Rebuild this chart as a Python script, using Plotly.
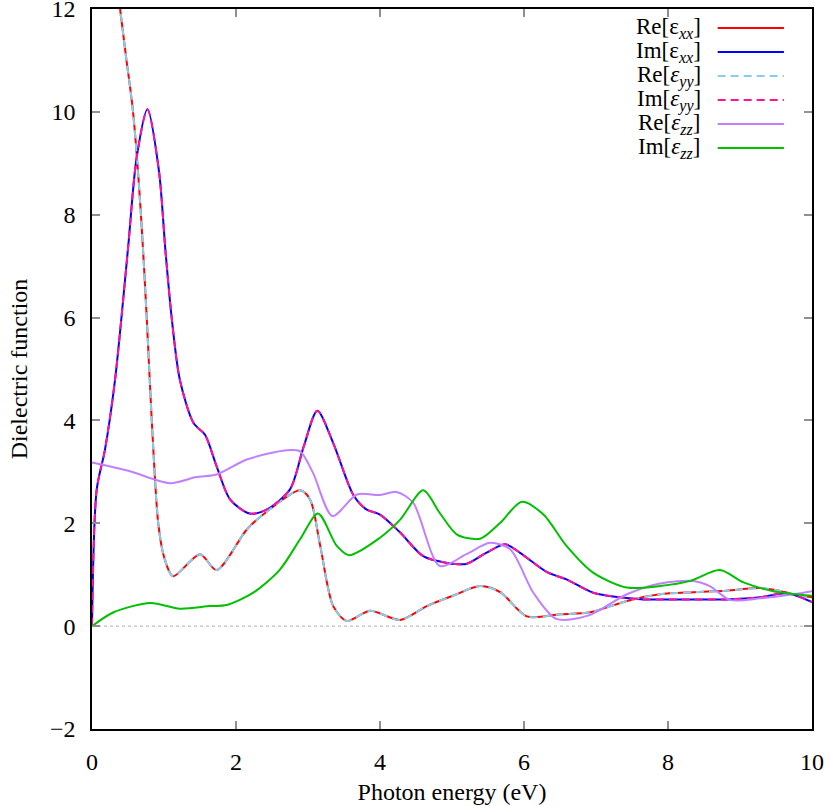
import plotly.graph_objects as go

# photon energy (eV) and dielectric function components
x_re_xx = [0.30, 0.39, 0.47, 0.57, 0.68, 0.76, 0.83, 0.92, 1.0, 1.125, 1.50, 1.73,
           2.15, 2.43, 2.89, 3.03, 3.17, 3.35, 3.54, 3.86, 4.28, 4.65, 5.01, 5.39,
           5.67, 6.04, 6.50, 6.92, 7.43, 7.89, 8.35, 8.81, 9.28, 9.51, 9.74, 10.0]
re_xx = [12.9, 12.0, 11.1, 10.0, 8.0, 6.0, 4.0, 2.0, 1.35, 0.97, 1.40, 1.09,
         1.88, 2.23, 2.64, 2.46, 1.56, 0.39, 0.10, 0.30, 0.12, 0.39, 0.59, 0.78,
         0.66, 0.19, 0.23, 0.27, 0.49, 0.62, 0.66, 0.69, 0.74, 0.70, 0.62, 0.56]

x_im_xx = [0.0, 0.065, 0.18, 0.32, 0.50, 0.62, 0.77, 0.93, 1.02, 1.11, 1.22, 1.41,
           1.57, 1.73, 1.92, 2.19, 2.43, 2.75, 2.94, 3.13, 3.35, 3.63, 3.81, 4.0,
           4.28, 4.60, 4.93, 5.20, 5.48, 5.74, 5.94, 6.32, 6.59, 6.96, 7.33, 7.66,
           8.35, 8.81, 9.28, 9.65, 10.0]
im_xx = [0.0, 2.65, 3.43, 4.79, 7.34, 9.11, 10.05, 8.85, 7.30, 5.95, 4.79, 3.95,
         3.72, 3.11, 2.46, 2.19, 2.27, 2.66, 3.49, 4.19, 3.56, 2.55, 2.27, 2.17,
         1.82, 1.36, 1.23, 1.21, 1.43, 1.59, 1.43, 1.05, 0.91, 0.65, 0.56, 0.52,
         0.52, 0.52, 0.56, 0.64, 0.47]

# yy components coincide with xx
x_re_yy, re_yy = x_re_xx, re_xx
x_im_yy, im_yy = x_im_xx, im_xx

x_re_zz = [0.0, 0.53, 1.08, 1.45, 1.73, 2.15, 2.70, 2.89, 3.07, 3.34, 3.68, 4.0,
           4.23, 4.46, 4.83, 5.20, 5.53, 5.81, 6.13, 6.45, 6.90, 7.43, 7.89, 8.35,
           8.58, 8.86, 9.28, 9.74, 10.0]
re_zz = [3.18, 3.01, 2.78, 2.90, 2.95, 3.24, 3.42, 3.40, 2.98, 2.14, 2.56, 2.55,
         2.61, 2.40, 1.17, 1.40, 1.62, 1.49, 0.65, 0.14, 0.21, 0.62, 0.83, 0.88,
         0.78, 0.51, 0.54, 0.62, 0.68]

x_im_zz = [0.0, 0.30, 0.81, 1.22, 1.64, 1.87, 2.24, 2.61, 2.89, 3.14, 3.40, 3.57,
           4.0, 4.28, 4.60, 4.83, 5.07, 5.39, 5.67, 5.97, 6.27, 6.59, 6.96, 7.43,
           7.89, 8.31, 8.72, 9.05, 9.46, 10.0]
im_zz = [0.0, 0.27, 0.45, 0.34, 0.39, 0.41, 0.65, 1.10, 1.69, 2.19, 1.56, 1.38,
         1.72, 2.07, 2.64, 2.20, 1.78, 1.70, 2.01, 2.42, 2.17, 1.56, 1.04, 0.75,
         0.78, 0.88, 1.09, 0.85, 0.68, 0.59]

x_ticks = [0, 2, 4, 6, 8, 10]
y_ticks = [-2, 0, 2, 4, 6, 8, 10, 12]

series = [
    ("Re[ε<sub><i>xx</i></sub>]", x_re_xx, re_xx, "#ff0000", "solid"),
    ("Im[ε<sub><i>xx</i></sub>]", x_im_xx, im_xx, "#0000ff", "solid"),
    ("Re[<i>ε</i><sub><i>yy</i></sub>]", x_re_yy, re_yy, "#87ceeb", "8px,5px"),
    ("Im[<i>ε</i><sub><i>yy</i></sub>]", x_im_yy, im_yy, "#ff1493", "8px,5px"),
    ("Re[<i>ε</i><sub><i>zz</i></sub>]", x_re_zz, re_zz, "#c080ff", "solid"),
    ("Im[<i>ε</i><sub><i>zz</i></sub>]", x_im_zz, im_zz, "#00c000", "solid"),
]

font = "Liberation Serif, Times New Roman, serif"

fig = go.Figure()
for name, xs, ys, color, dash in series:
    fig.add_trace(go.Scatter(
        x=xs, y=ys, mode="lines", name=name, showlegend=False,
        line=dict(color=color, width=2, dash=dash, shape="spline", smoothing=0.8),
    ))

fig.add_hline(y=0, line=dict(color="#b0b0b0", width=1, dash="dot"), layer="below")

# gnuplot-like key: text on the left, line sample on the right
for i, (name, xs, ys, color, dash) in enumerate(series):
    yk = 1 - (19 + 24 * i) / 720
    fig.add_annotation(xref="paper", yref="paper", x=0.848, y=yk, text=name,
                       showarrow=False, xanchor="right", yanchor="middle",
                       font=dict(family=font, size=23, color="black"))
    fig.add_shape(type="line", xref="paper", yref="paper",
                  x0=0.869, x1=0.961, y0=yk, y1=yk,
                  line=dict(color=color, width=2, dash=dash))

axis_common = dict(
    showline=True, linecolor="black", linewidth=1.5, mirror="ticks",
    ticks="inside", ticklen=8, tickcolor="#909090", tickwidth=1.5,
    showgrid=False, zeroline=False, ticklabelstandoff=10,
    ticklabeloverflow="allow", automargin=False,
    tickfont=dict(family=font, size=24, color="black"),
)

fig.update_layout(
    width=830, height=806,
    margin=dict(l=92, r=18, t=9, b=77),
    plot_bgcolor="white", paper_bgcolor="white",
    font=dict(family=font, size=24, color="black"),
    xaxis=dict(range=[0, 10], tickvals=x_ticks,
               title=dict(text="Photon energy (eV)", standoff=10,
                          font=dict(family=font, size=24)),
               **axis_common),
    yaxis=dict(range=[-2, 12], tickvals=y_ticks,
               title=dict(text="Dielectric function", standoff=16,
                          font=dict(family=font, size=24)),
               **axis_common),
)

fig.write_html("out.html", config={"displayModeBar": False},
               post_script="document.body.style.margin='0';")
